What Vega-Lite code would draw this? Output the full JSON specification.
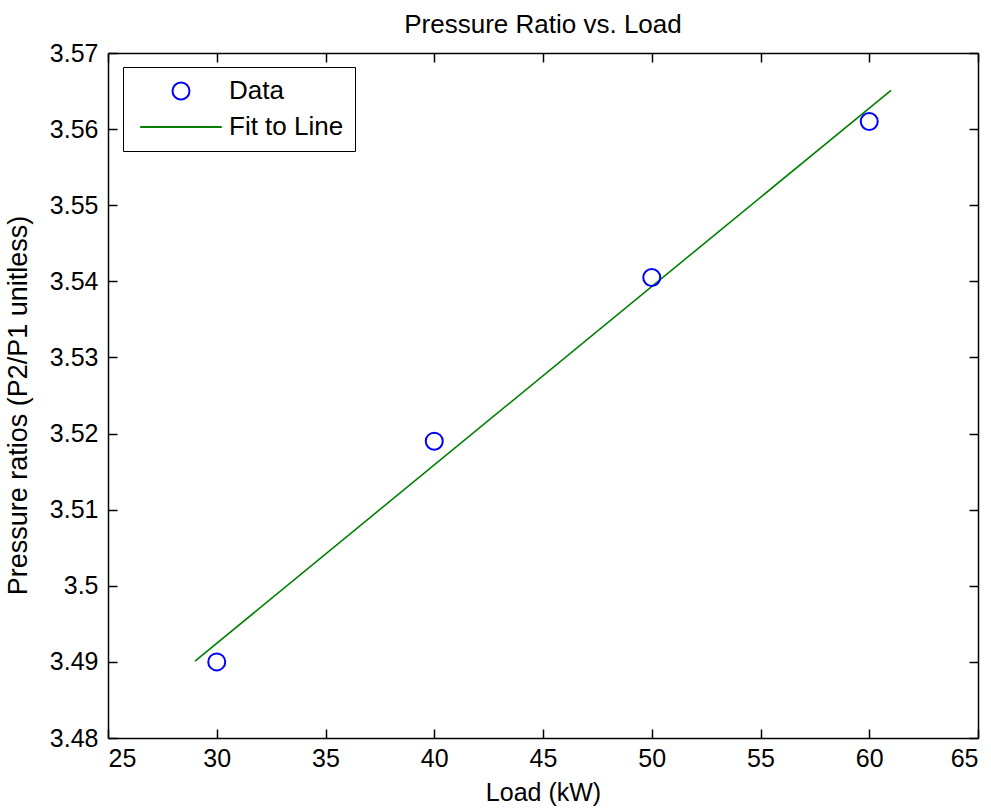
{
  "$schema": "https://vega.github.io/schema/vega-lite/v6.json",
  "width": 870,
  "height": 685,
  "autosize": {"type": "none"},
  "padding": {"left": 108, "top": 53, "right": 13, "bottom": 72},
  "background": "white",
  "config": {
    "font": "Liberation Sans",
    "view": {"stroke": null},
    "axis": {
      "domainColor": "#000000",
      "domainWidth": 1.5,
      "tickColor": "#000000",
      "tickWidth": 1.5,
      "tickSize": -9,
      "grid": false,
      "labelFont": "Liberation Sans",
      "labelFontSize": 25,
      "labelColor": "#000000",
      "titleFont": "Liberation Sans",
      "titleFontSize": 25,
      "titleFontWeight": "normal",
      "titleColor": "#000000"
    }
  },
  "title": {
    "text": "Pressure Ratio vs. Load",
    "font": "Liberation Sans",
    "fontSize": 26,
    "fontWeight": "normal",
    "color": "#000000",
    "offset": 3
  },
  "datasets": {
    "obs": [
      {"load": 30, "ratio": 3.49, "series": "Data"},
      {"load": 40, "ratio": 3.519, "series": "Data"},
      {"load": 50, "ratio": 3.5405, "series": "Data"},
      {"load": 60, "ratio": 3.561, "series": "Data"}
    ],
    "fit": [
      {"load": 29, "ratio": 3.4901},
      {"load": 61, "ratio": 3.5651}
    ]
  },
  "layer": [
    {
      "data": {"name": "fit"},
      "mark": {"type": "line", "color": "#008000", "strokeWidth": 1.6},
      "encoding": {
        "x": {
          "field": "load", "type": "quantitative",
          "scale": {"domain": [25, 65], "nice": false, "zero": false},
          "axis": {"orient": "top", "labels": false, "title": null, "values": [25, 30, 35, 40, 45, 50, 55, 60, 65]}
        },
        "y": {
          "field": "ratio", "type": "quantitative",
          "scale": {"domain": [3.48, 3.57], "nice": false, "zero": false},
          "axis": {"orient": "right", "labels": false, "title": null, "values": [3.48, 3.49, 3.5, 3.51, 3.52, 3.53, 3.54, 3.55, 3.56, 3.57]}
        }
      }
    },
    {
      "data": {"name": "obs"},
      "mark": {"type": "point", "filled": false, "strokeWidth": 2, "opacity": 1, "size": 289},
      "encoding": {
        "x": {
          "field": "load", "type": "quantitative",
          "scale": {"domain": [25, 65], "nice": false, "zero": false},
          "axis": {"orient": "bottom", "title": "Load (kW)", "labelPadding": 17, "titlePadding": 9, "values": [25, 30, 35, 40, 45, 50, 55, 60, 65]}
        },
        "y": {
          "field": "ratio", "type": "quantitative",
          "scale": {"domain": [3.48, 3.57], "nice": false, "zero": false},
          "axis": {"orient": "left", "title": "Pressure ratios (P2/P1 unitless)", "titleFontSize": 27, "titleY": 352, "labelPadding": 19, "titlePadding": 17, "format": ".3~f", "values": [3.48, 3.49, 3.5, 3.51, 3.52, 3.53, 3.54, 3.55, 3.56, 3.57]}
        },
        "color": {
          "field": "series", "type": "nominal",
          "scale": {"domain": ["Data", "Fit to Line"], "range": ["#0000ff", "#008000"]},
          "legend": {
            "title": null,
            "orient": "none",
            "legendX": 15,
            "legendY": 14,
            "strokeColor": "#000000",
            "fillColor": "#ffffff",
            "padding": 11,
            "labelFont": "Liberation Sans",
            "labelFontSize": 26,
            "labelColor": "#000000",
            "labelOffset": 35,
            "rowPadding": 10,
            "symbolOffset": 34,
            "symbolSize": 289,
            "symbolStrokeWidth": 2
          }
        },
        "shape": {
          "field": "series", "type": "nominal",
          "scale": {"domain": ["Data", "Fit to Line"], "range": ["circle", "M-4.8,0H4.8"]}
        }
      }
    }
  ],
  "resolve": {"axis": {"x": "independent", "y": "independent"}}
}
